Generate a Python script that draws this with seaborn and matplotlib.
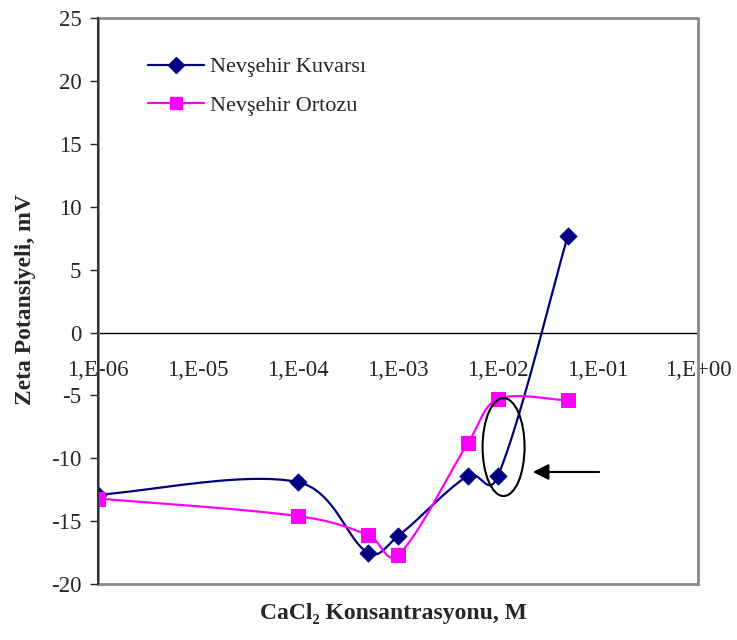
import numpy as np
import seaborn as sns
import matplotlib.pyplot as plt
from matplotlib.lines import Line2D
from matplotlib.patches import Ellipse, Rectangle
from matplotlib.ticker import LogLocator, NullFormatter

# data
conc = [1e-6, 1e-4, 5e-4, 1e-3, 5e-3, 1e-2, 5e-2]
kuvars = [-12.9, -11.9, -17.5, -16.2, -11.4, -11.4, 7.7]
ortoz = [-13.2, -14.6, -16.1, -17.7, -8.8, -5.3, -5.4]
names = ["Nevşehir Kuvarsı", "Nevşehir Ortozu"]
xticks = [1e-6, 1e-5, 1e-4, 1e-3, 1e-2, 1e-1, 1e0]
xlabels = ["1,E-06", "1,E-05", "1,E-04", "1,E-03", "1,E-02", "1,E-01", "1,E+00"]
yticks = [-20, -15, -10, -5, 0, 5, 10, 15, 20, 25]

sns.set_style("white")
plt.rcParams['font.family'] = ['Liberation Serif', 'DejaVu Serif']

# excel-like smoothed line (bezier through the points, in screen-ish units)
# control points: mix of plain catmull-rom and chord-length weighted
def smooth(xs, ys, n=40, mix=0.5):
    px = (np.log10(xs) + 6) * 100
    py = np.array(ys) * 12.58
    P = np.column_stack([px, py])
    P = np.vstack([P[0], P, P[-1]])
    out = []
    t = np.linspace(0, 1, n)[:, None]
    for i in range(1, len(P) - 2):
        p0, p1, p2, p3 = P[i - 1], P[i], P[i + 1], P[i + 2]
        d01 = np.hypot(*(p1 - p0))
        d12 = np.hypot(*(p2 - p1))
        d23 = np.hypot(*(p3 - p2))
        f1 = mix / 6 + (1 - mix) * d12 / (d01 + d12) / 3
        f2 = mix / 6 + (1 - mix) * d12 / (d12 + d23) / 3
        c1 = p1 + (p2 - p0) * f1
        c2 = p2 - (p3 - p1) * f2
        out.append((1 - t)**3 * p1 + 3 * (1 - t)**2 * t * c1 + 3 * (1 - t) * t**2 * c2 + t**3 * p2)
    out = np.vstack(out)
    return 10 ** (out[:, 0] / 100 - 6), out[:, 1] / 12.58

fig = plt.figure(figsize=(7.37, 6.4), dpi=100)
ax = fig.add_axes([0.133, 0.0875, 0.814, 0.884])

sx, sy = smooth(conc, kuvars)
sns.lineplot(x=sx, y=sy, sort=False, estimator=None, color='#000080', lw=1.6, ax=ax)
sns.scatterplot(x=conc, y=kuvars, marker='D', s=75, color='#000080', edgecolor='#000080', ax=ax, zorder=5)
sx, sy = smooth(conc, ortoz)
sns.lineplot(x=sx, y=sy, sort=False, estimator=None, color='#FF00FF', lw=1.6, ax=ax)
sns.scatterplot(x=conc, y=ortoz, marker='s', s=90, color='#FF00FF', edgecolor='#FF00FF', ax=ax, zorder=5)

ax.set_xscale('log')
ax.set_xlim(1e-6, 1)
ax.set_ylim(-20, 25)
ax.set_xticks(xticks)
ax.set_xticklabels(xlabels)
ax.xaxis.set_minor_locator(LogLocator(base=10, subs=np.arange(2, 10)))
ax.xaxis.set_minor_formatter(NullFormatter())
ax.set_yticks(yticks)
ax.set_yticklabels([str(v) for v in yticks])

for s in ['top', 'right']:
    ax.spines[s].set_visible(False)
ax.spines['bottom'].set_position(('data', 0))
ax.spines['bottom'].set_color('black')
ax.spines['bottom'].set_linewidth(1.0)
ax.spines['left'].set_color('#333333')
ax.spines['left'].set_linewidth(1.5)
ax.spines['left'].set_zorder(6)
ax.add_patch(Rectangle((0, 0), 1, 1, transform=ax.transAxes, fill=False,
                       edgecolor='#8a8a8a', lw=2, clip_on=False, zorder=4))

ax.tick_params(axis='x', which='major', direction='in', length=8, width=1, pad=20, labelsize=16.5)
ax.tick_params(axis='x', which='minor', direction='in', length=5, width=1)
ax.tick_params(axis='y', direction='out', length=6, width=1, labelsize=16.5, left=True, pad=6)

ax.set_xlabel('')
ax.set_ylabel('')

handles = [Line2D([], [], color='#000080', marker='D', markersize=8, lw=1.6),
           Line2D([], [], color='#FF00FF', marker='s', markersize=9, lw=1.6)]
ax.legend(handles, names, loc='upper left', bbox_to_anchor=(0.05, 0.967), frameon=False,
          fontsize=16, handlelength=2.5, labelspacing=0.8, handletextpad=0.3)

# highlighted region and arrow
ax.add_patch(Ellipse((0.676, 0.242), 0.07, 0.173, transform=ax.transAxes,
                     fill=False, edgecolor='black', lw=1.5, zorder=6))
ax.annotate('', xy=(0.72, 0.198), xytext=(0.84, 0.198), xycoords='axes fraction',
            arrowprops=dict(arrowstyle='-|>', mutation_scale=24, lw=1.5, color='black'))

fig.text(393 / 737, 1 - 613 / 640, 'CaCl₂ Konsantrasyonu, M', ha='center', va='center',
         fontsize=17, fontweight='bold')
fig.text(26 / 737, 1 - 300 / 640, 'Zeta Potansiyeli, mV', ha='center', va='center',
         rotation=90, fontsize=17, fontweight='bold')

fig.savefig('out.png', dpi=100)
